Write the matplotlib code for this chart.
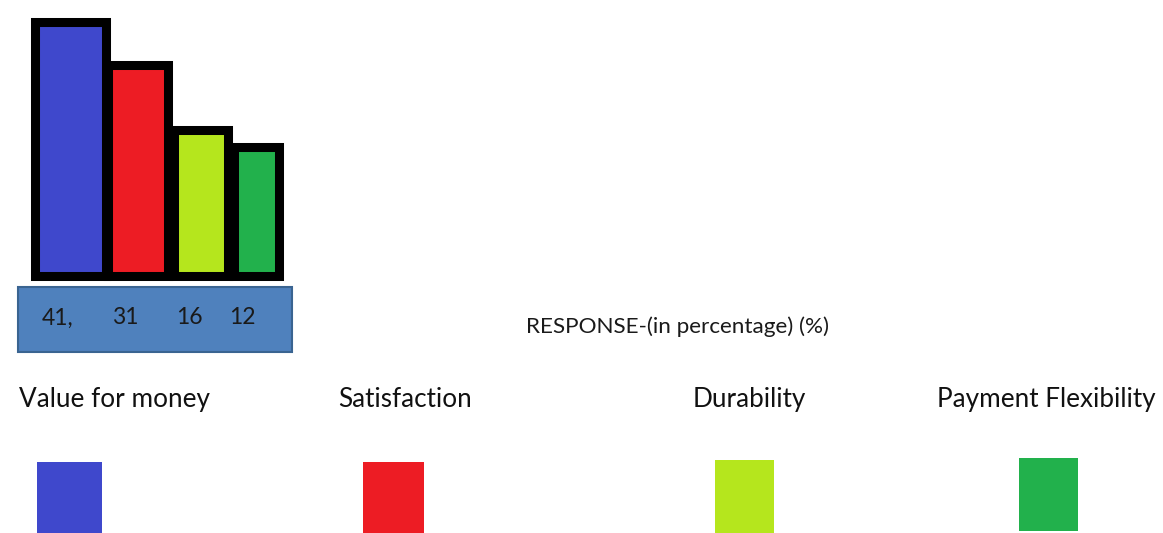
import numpy as np
import matplotlib.pyplot as plt
from matplotlib.patches import Rectangle

plt.rcParams['font.family'] = ['Lato', 'DejaVu Sans']

# data
categories = ["Value for money", "Satisfaction", "Durability", "Payment Flexibility"]
values = np.array([41, 31, 16, 12])
value_labels = ["41,", "31", "16", "12"]
colors = ["#3F48CC", "#ED1C24", "#B5E61D", "#22B14C"]

W, H = 1163, 533
fig = plt.figure(figsize=(W / 100, H / 100), dpi=100)

# overlay in pixel coordinates for box, texts and legend swatches
ov = fig.add_axes([0, 0, 1, 1])
ov.set_xlim(0, W)
ov.set_ylim(H, 0)
ov.axis("off")

# bar chart area (x in pixels, y in percent)
bar_bottom_px = 276
ymin, px_per_unit = -18.1, 4.29
ax = fig.add_axes([0, (H - bar_bottom_px) / H, 300 / W, bar_bottom_px / H])
ax.set_xlim(0, 300)
ax.set_ylim(ymin, ymin + bar_bottom_px / px_per_unit)
ax.axis("off")

bar_x = [70, 138, 201, 256.5]
bar_w = [71, 60, 54, 44.5]
for x, w, v, c in zip(bar_x, bar_w, values, colors):
    ax.bar(x, v - ymin, bottom=ymin, width=w, color=c, edgecolor="black",
           linewidth=6.5, clip_on=False)

# value box
ov.add_patch(Rectangle((18, 287), 274, 65, facecolor="#4F81BD",
                       edgecolor="#3A6491", linewidth=1.5))
label_x = [57.5, 125.5, 189, 242.5]
for x, t in zip(label_x, value_labels):
    ov.text(x, 318, t, ha="center", va="center", fontsize=16.5, color="#1a1a1a")

ov.text(526, 327, "RESPONSE-(in percentage) (%)", ha="left", va="center",
        fontsize=16.2, color="#1a1a1a")

# legend
cat_x = [19, 338, 693, 937]
sw_x = [37, 363, 715, 1019]
sw_w = [65, 61, 59, 59]
sw_y = [462, 462, 460, 458]
sw_h = [80, 80, 80, 73]
for i, name in enumerate(categories):
    ov.text(cat_x[i], 407, name, ha="left", va="baseline", fontsize=18.8,
            color="#111111")
    ov.add_patch(Rectangle((sw_x[i], sw_y[i]), sw_w[i], sw_h[i],
                           facecolor=colors[i], edgecolor="none"))

fig.savefig("out.png", dpi=100)
